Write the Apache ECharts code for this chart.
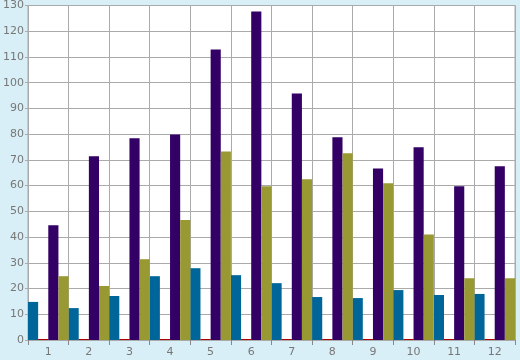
<!DOCTYPE html>
<html>
<head>
<meta charset="utf-8">
<script src="https://cdn.jsdelivr.net/npm/echarts@6/dist/echarts.min.js"></script>
<style>
html,body{margin:0;padding:0;background:#d9eff7;}
#c{width:520px;height:360px;}
</style>
</head>
<body>
<div id="c"></div>
<script>
const categories = ['1','2','3','4','5','6','7','8','9','10','11','12'];
const blueValues = [14.8, 12.4, 17.1, 24.8, 27.9, 25.2, 22.1, 16.7, 16.3, 19.4, 17.5, 17.9];
const redValues = [0.4, 0.4, 0.4, 0.4, 0.4, 0.4, 0.4, 0.4, 0.4, 0.4, 0.4, 0.4];
const purpleValues = [44.6, 71.4, 78.4, 79.9, 112.9, 127.7, 95.8, 78.8, 66.7, 74.9, 59.8, 67.5];
const oliveValues = [24.8, 21.0, 31.4, 46.6, 73.3, 59.8, 62.5, 72.6, 60.9, 41.0, 24.0, 24.0];
const yMin = 0, yMax = 130, yStep = 10;

const chart = echarts.init(document.getElementById('c'), null, {renderer: 'canvas'});
const font = 'DejaVu Sans';
chart.setOption({
  backgroundColor: '#d9eff7',
  animation: false,
  grid: {left: 26, right: 5, top: 5, bottom: 20, show: true, backgroundColor: '#ffffff', borderColor: '#aaaaaa', borderWidth: 1},
  xAxis: {
    type: 'category',
    data: categories,
    axisLine: {lineStyle: {color: '#aaaaaa', width: 1}},
    axisTick: {show: true, length: 5, lineStyle: {color: '#888888'}},
    axisLabel: {color: '#777777', fontFamily: font, fontSize: 11, margin: 7},
    splitLine: {show: true, lineStyle: {color: '#aaaaaa', width: 1}}
  },
  yAxis: {
    type: 'value',
    min: yMin, max: yMax, interval: yStep,
    axisLine: {show: false},
    axisTick: {show: true, length: 3, lineStyle: {color: '#aaaaaa'}},
    axisLabel: {color: '#777777', fontFamily: font, fontSize: 11, margin: 4},
    splitLine: {show: true, lineStyle: {color: '#aaaaaa', width: 1}}
  },
  series: [
    {type: 'bar', data: blueValues, itemStyle: {color: '#006699'}, barGap: '0%', barCategoryGap: '0%'},
    {type: 'bar', data: redValues, itemStyle: {color: '#aa0000'}, barMinHeight: 1},
    {type: 'bar', data: purpleValues, itemStyle: {color: '#330066'}},
    {type: 'bar', data: oliveValues, itemStyle: {color: '#999933'}}
  ]
});
</script>
</body>
</html>
